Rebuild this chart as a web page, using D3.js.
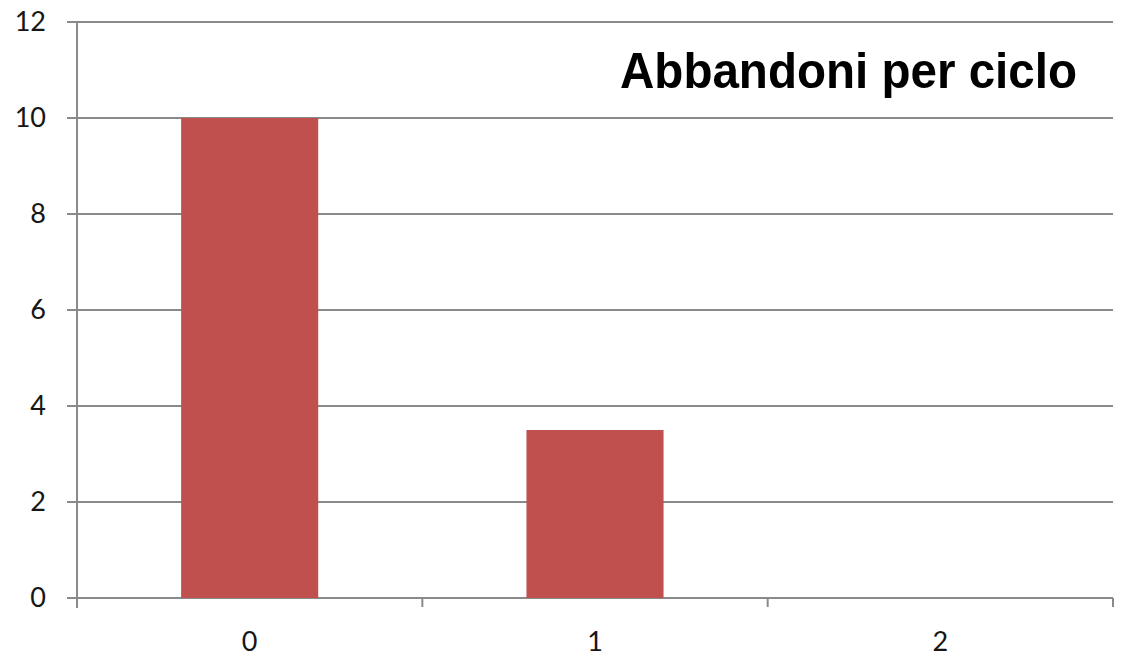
<!DOCTYPE html>
<html>
<head>
<meta charset="utf-8">
<script src="https://cdn.jsdelivr.net/npm/d3@7/dist/d3.min.js"></script>
<style>
  html, body { margin: 0; padding: 0; background: #ffffff; }
  svg { display: block; }
</style>
</head>
<body>
<script>
// Dropouts per cycle
const categories = ["0", "1", "2"];
const values = [10, 3.5, 0];
const yTicks = [0, 2, 4, 6, 8, 10, 12];
const titleText = "Abbandoni per ciclo";

const W = 1124, H = 660;
const plotLeft = 77, plotRight = 1113, plotTop = 22, plotBottom = 598;

const svg = d3.select("body").append("svg")
  .attr("width", W).attr("height", H);

const x = d3.scaleBand().domain(categories).range([plotLeft, plotRight]).padding(0);
const y = d3.scaleLinear().domain([0, 12]).range([plotBottom, plotTop]);

const gridColor = "#8a8a8a";
const labelFont = "Lato, 'Open Sans', sans-serif";

// Horizontal gridlines with short ticks left of the axis
svg.append("g")
  .selectAll("line")
  .data(yTicks)
  .join("line")
  .attr("x1", plotLeft - 10).attr("x2", plotRight)
  .attr("y1", d => y(d)).attr("y2", d => y(d))
  .attr("stroke", gridColor).attr("stroke-width", 2);

// Bars
const barFrac = 0.397;
svg.append("g")
  .selectAll("rect")
  .data(values)
  .join("rect")
  .attr("x", (d, i) => x(categories[i]) + x.bandwidth() * (1 - barFrac) / 2)
  .attr("width", x.bandwidth() * barFrac)
  .attr("y", d => y(d))
  .attr("height", d => y(0) - y(d))
  .attr("fill", "#c0504d");

// Y axis labels
const yAxis = d3.axisLeft(y).tickValues(yTicks).tickSize(0).tickPadding(31)
  .tickFormat(d3.format("d"));
const gy = svg.append("g").attr("transform", `translate(${plotLeft},0)`).call(yAxis);
gy.select(".domain").remove();
gy.selectAll("text")
  .attr("font-family", labelFont).attr("font-size", 27)
  .attr("fill", "#161616");

// Y axis line, running slightly below zero
svg.append("line")
  .attr("x1", plotLeft).attr("x2", plotLeft)
  .attr("y1", plotTop).attr("y2", plotBottom + 10)
  .attr("stroke", gridColor).attr("stroke-width", 2);

// X axis labels at category centres
const xAxis = d3.axisBottom(x).tickSize(0).tickPadding(34);
const gx = svg.append("g").attr("transform", `translate(0,${plotBottom})`).call(xAxis);
gx.select(".domain").remove();
gx.selectAll("text")
  .attr("font-family", labelFont).attr("font-size", 27)
  .attr("fill", "#161616");

// Tick marks at category boundaries
const boundaries = categories.map(c => x(c)).concat([x(categories[categories.length - 1]) + x.bandwidth()]);
svg.append("g")
  .selectAll("line")
  .data(boundaries.slice(1))
  .join("line")
  .attr("x1", d => d).attr("x2", d => d)
  .attr("y1", plotBottom).attr("y2", plotBottom + 9)
  .attr("stroke", gridColor).attr("stroke-width", 2);

// Title
svg.append("text")
  .attr("x", 620).attr("y", 88)
  .attr("textLength", 457).attr("lengthAdjust", "spacingAndGlyphs")
  .attr("font-family", "'Liberation Sans', Arial, sans-serif")
  .attr("font-weight", "bold").attr("font-size", 50)
  .attr("fill", "#000")
  .text(titleText);
</script>
</body>
</html>
